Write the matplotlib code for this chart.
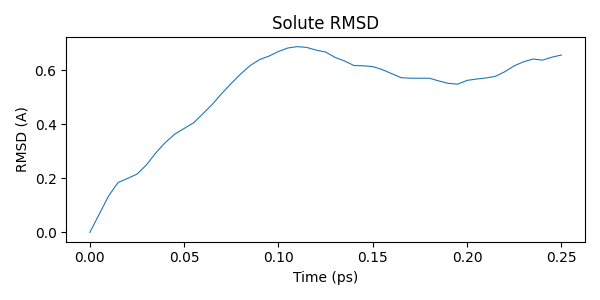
import numpy as np
import matplotlib
matplotlib.use("Agg")
import matplotlib.pyplot as plt

# time axis (ps) and solute RMSD (A)
time_ps = np.arange(51) * 0.005
rmsd = [0.000, 0.068, 0.136, 0.185, 0.200, 0.216, 0.250, 0.295, 0.333, 0.364,
        0.385, 0.406, 0.440, 0.475, 0.515, 0.552, 0.587, 0.618, 0.640, 0.653,
        0.670, 0.683, 0.688, 0.685, 0.675, 0.668, 0.648, 0.635, 0.618, 0.617,
        0.614, 0.603, 0.588, 0.573, 0.571, 0.571, 0.571, 0.561, 0.552, 0.549,
        0.563, 0.568, 0.572, 0.578, 0.595, 0.617, 0.632, 0.642, 0.638, 0.649,
        0.657]

fig, ax = plt.subplots(figsize=(6, 3), dpi=100)
ax.plot(time_ps, rmsd, linewidth=0.8)

ax.set_title("Solute RMSD")
ax.set_xlabel("Time (ps)")
ax.set_ylabel("RMSD (A)")

plt.tight_layout()
plt.savefig("out.png")
